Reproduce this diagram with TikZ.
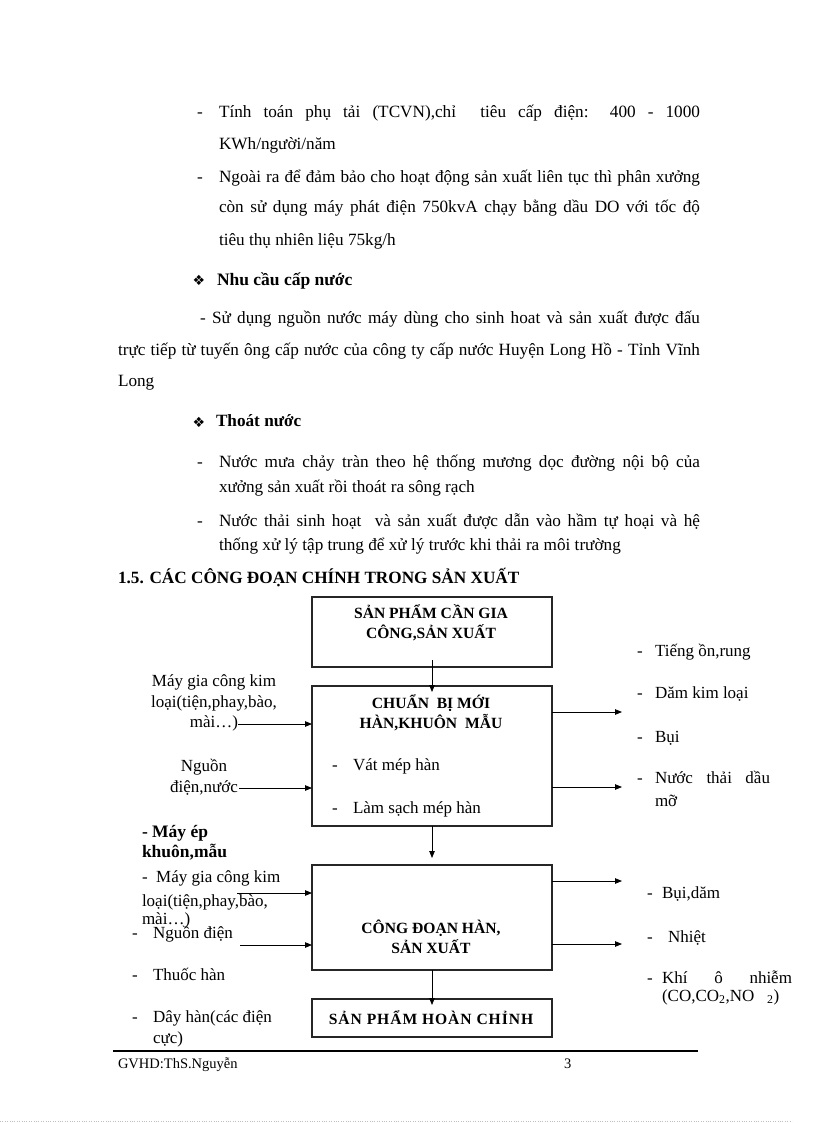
\documentclass[tikz,border=0pt]{standalone}
\usepackage{fontspec}
\setmainfont{Liberation Serif}
\newfontfamily\dingfont{DejaVu Sans}
\usetikzlibrary{arrows.meta}
\tikzset{
  every node/.style={inner sep=0pt, outer sep=0pt},
  body/.style={anchor=base west, font=\fontsize{17.2}{20}\selectfont},
  lbl/.style={anchor=base west, font=\fontsize{17}{20.5}\selectfont},
  inlbl/.style={align=center, font=\fontsize{17}{20.5}\selectfont},
  title/.style={align=center, font=\bfseries\fontsize{15.6}{20.5}\selectfont},
  stage/.style={draw=black!85, line width=1.1pt, minimum width=240pt},
  flow/.style={-{Triangle[length=7pt,width=5.5pt]}, line width=0.8pt},
}
\newcommand\jline[2]{\makebox[#1][s]{#2}}

\begin{document}
\begin{tikzpicture}[x=1pt,y=-1pt]
    \useasboundingbox (0,0) rectangle (816,1123);

    % text of the page above the chart
    \foreach \y in {118,183,467,526}
        \node[body] (dash\y) at (197,\y) {-};
    \foreach \y in {280,422}
        \node (diam\y) at (199,\y) {\dingfont\fontsize{14}{14}\selectfont ❖};

    \node[body] (t1) at (219,118) {\jline{481pt}{Tính toán phụ tải (TCVN),chỉ \ tiêu cấp điện: 400 - 1000}};
    \node[body] (t2) at (219,150) {KWh/người/năm};
    \node[body] (t3) at (219,183) {\jline{481pt}{Ngoài ra để đảm bảo cho hoạt động sản xuất liên tục thì phân xưởng}};
    \node[body] (t4) at (219,213) {\jline{481pt}{còn sử dụng máy phát điện 750kvA chạy bằng dầu DO với tốc độ}};
    \node[body] (t5) at (219,245) {tiêu thụ nhiên liệu 75kg/h};
    \node[body, font=\bfseries\fontsize{17.5}{20}\selectfont] (h1) at (217,285) {Nhu cầu cấp nước};
    \node[body] (t6) at (200,323) {\jline{500pt}{- Sử dụng nguồn nước máy dùng cho sinh hoat và sản xuất được đấu}};
    \node[body] (t7) at (118,355) {\jline{582pt}{trực tiếp từ tuyến ông cấp nước của công ty cấp nước Huyện Long Hồ - Tỉnh Vĩnh}};
    \node[body] (t8) at (118,386) {Long};
    \node[body, font=\bfseries\fontsize{17.2}{20}\selectfont] (h2) at (216,426) {Thoát nước};
    \node[body] (t9) at (219,467) {\jline{481pt}{Nước mưa chảy tràn theo hệ thống mương dọc đường nội bộ của}};
    \node[body] (t10) at (219,492) {xưởng sản xuất rồi thoát ra sông rạch};
    \node[body] (t11) at (219,526) {\jline{481pt}{Nước thải sinh hoạt \ và sản xuất được dẫn vào hầm tự hoại và hệ}};
    \node[body] (t12) at (219,550) {thống xử lý tập trung để xử lý trước khi thải ra môi trường};
    \node[body, font=\bfseries\fontsize{17.2}{20}\selectfont] (sec) at (118,583) {1.5. CÁC CÔNG ĐOẠN CHÍNH TRONG SẢN XUẤT};

    % stages (boxes)
    \node[stage, minimum height=70pt]  (prod) at (432,632) {};
    \node[stage, minimum height=140pt] (prep) at (432,756) {};
    \node[stage, minimum height=105pt] (weld) at (432,917.5) {};
    \node[stage, minimum height=38pt]  (done) at (432,1018) {};

    \node[title] (prodT) at (431,623) {SẢN PHẨM CẦN GIA\\CÔNG,SẢN XUẤT};
    \node[title] (prepT) at (431,713) {CHUẨN \ BỊ MỚI\\HÀN,KHUÔN \ MẪU};
    \node[title] (weldT) at (431,937) {CÔNG ĐOẠN HÀN,\\SẢN XUẤT};
    \node[title] (doneT) at (431,1018) {\addfontfeature{LetterSpace=6}SẢN PHẨM HOÀN CHỈNH};

    \foreach \y/\t [count=\i] in {770/{Vát mép hàn}, 813/{Làm sạch mép hàn}} {
        \node[lbl] (pd\i) at (332,\y) {-};
        \node[lbl] (pi\i) at (353,\y) {\t};
    }

    % flow between the stages
    \coordinate (a1) at (432,660);
    \draw[flow] (a1) -- ([yshift=-6pt]prep.north);
    \draw[flow] (prep.south) -- ([yshift=7pt]weld.north);
    \draw[flow] (weld.south) -- ([yshift=-6pt]done.north);

    % inputs of the preparation stage
    \node[inlbl] (in1) at (214,703) {Máy gia công kim\\loại(tiện,phay,bào,\\mài…)};
    \node[inlbl] (in2) at (204,777) {Nguồn\\điện,nước};
    \coordinate (in1e) at (238,724);
    \coordinate (in2e) at (239,788);
    \foreach \c in {in1e,in2e}
        \draw[flow] (\c) -- (\c -| prep.west);

    % outputs of the preparation stage
    \foreach \y [count=\i] in {712,787} {
        \coordinate (po\i) at (622,\y);
        \draw[flow] (po\i -| prep.east) -- (po\i);
    }
    \foreach \y/\t [count=\i] in {656/{Tiếng ồn,rung}, 698/{Dăm kim loại}, 742/{Bụi}, 783/{\jline{115pt}{Nước thải dầu}}} {
        \node[lbl] (od\i) at (637,\y) {-};
        \node[lbl] (ot\i) at (655,\y) {\t};
    }
    \node[lbl] (ot5) at (655,806) {mỡ};

    % inputs of the welding stage
    \node[lbl, font=\bfseries\fontsize{17.5}{20}\selectfont] (wi1) at (142,837) {- Máy ép};
    \node[lbl, font=\bfseries\fontsize{17.5}{20}\selectfont] (wi2) at (142,857) {khuôn,mẫu};
    \node[lbl] (wi3) at (142,882) {-\ \ Máy gia công kim};
    \node[lbl] (wi4) at (142,906) {loại(tiện,phay,bào,};
    \node[lbl] (wi5) at (142,924) {mài…)};
    \foreach \y/\t [count=\i] in {938/{Nguồn điện}, 980/{Thuốc hàn}, 1022/{Dây hàn(các điện}} {
        \node[lbl] (wd\i) at (132,\y) {-};
        \node[lbl] (wt\i) at (153,\y) {\t};
    }
    \node[lbl] (wt4) at (153,1043) {cực)};
    \coordinate (wi1e) at (237,893);
    \coordinate (wi2e) at (240,945);
    \foreach \c in {wi1e,wi2e}
        \draw[flow] (\c) -- (\c -| weld.west);

    % outputs of the welding stage
    \foreach \y [count=\i] in {881,944} {
        \coordinate (wo\i) at (622,\y);
        \draw[flow] (wo\i -| weld.east) -- (wo\i);
    }
    \foreach \y/\x/\t [count=\i] in {898/662/{Bụi,dăm}, 942/668/{Nhiệt}, 983/662/{\jline{130pt}{Khí ô nhiễm}}} {
        \node[lbl] (wod\i) at (647,\y) {-};
        \node[lbl] (wot\i) at (\x,\y) {\t};
    }
    \node[lbl] (wot4) at (662,1001) {(CO,CO\textsubscript{2},NO\ \ \ \textsubscript{2})};

    % footer
    \draw[line width=2pt] (113,1051) -- (698,1051);
    \node[anchor=base west, font=\fontsize{14.5}{16}\selectfont] (foot) at (118,1068) {GVHD:ThS.Nguyễn};
    \node[anchor=base west, font=\fontsize{14.5}{16}\selectfont] (page) at (564,1068) {3};
    \draw[dotted, black!25] (0,1121) -- (792,1121);
\end{tikzpicture}
\end{document}
